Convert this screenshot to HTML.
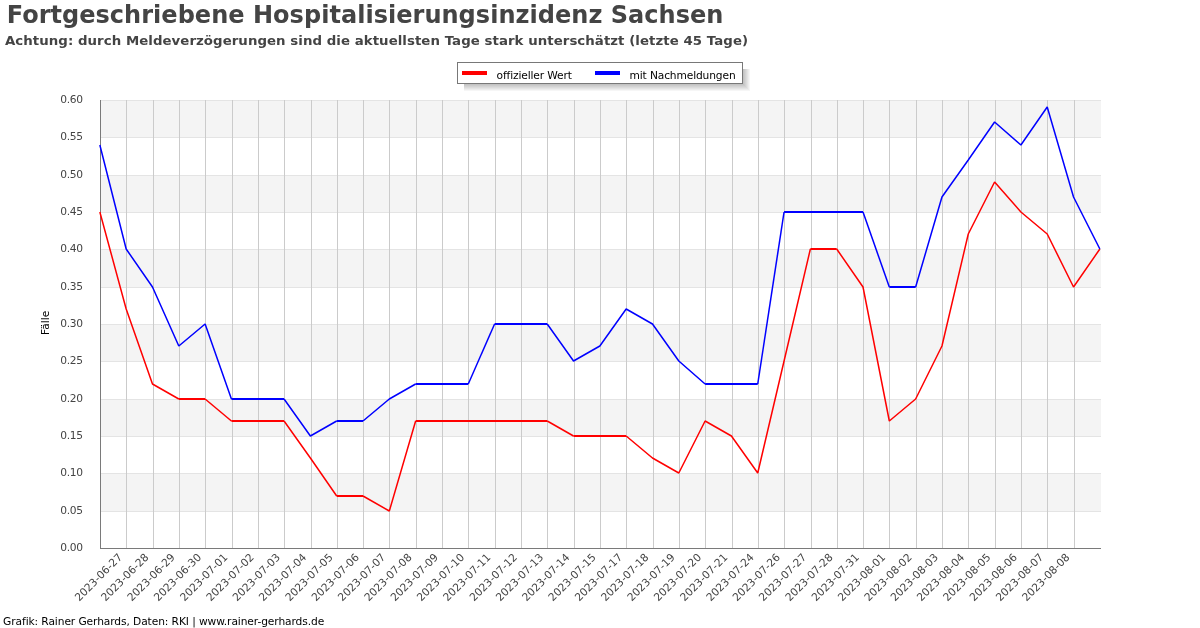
<!DOCTYPE html>
<html lang="de"><head><meta charset="utf-8"><title>Fortgeschriebene Hospitalisierungsinzidenz Sachsen</title>
<style>html,body{margin:0;padding:0;background:#fff}body{width:1200px;height:628px;overflow:hidden}svg{display:block}text{font-family:"DejaVu Sans","Liberation Sans",sans-serif}.b{font-weight:bold;fill:#444}.t{fill:#444}.k{fill:#000}</style></head><body>
<svg width="1200" height="628" viewBox="0 0 1200 628">
<rect width="1200" height="628" fill="#fff"/>
<g shape-rendering="crispEdges">
<rect x="100" y="100" width="1001" height="37" fill="#f4f4f4"/>
<rect x="100" y="175" width="1001" height="37" fill="#f4f4f4"/>
<rect x="100" y="249" width="1001" height="38" fill="#f4f4f4"/>
<rect x="100" y="324" width="1001" height="37" fill="#f4f4f4"/>
<rect x="100" y="399" width="1001" height="37" fill="#f4f4f4"/>
<rect x="100" y="473" width="1001" height="38" fill="#f4f4f4"/>
<rect x="100" y="100" width="1001" height="1" fill="#e4e4e4"/>
<rect x="100" y="137" width="1001" height="1" fill="#e4e4e4"/>
<rect x="100" y="175" width="1001" height="1" fill="#e4e4e4"/>
<rect x="100" y="212" width="1001" height="1" fill="#e4e4e4"/>
<rect x="100" y="249" width="1001" height="1" fill="#e4e4e4"/>
<rect x="100" y="287" width="1001" height="1" fill="#e4e4e4"/>
<rect x="100" y="324" width="1001" height="1" fill="#e4e4e4"/>
<rect x="100" y="361" width="1001" height="1" fill="#e4e4e4"/>
<rect x="100" y="399" width="1001" height="1" fill="#e4e4e4"/>
<rect x="100" y="436" width="1001" height="1" fill="#e4e4e4"/>
<rect x="100" y="473" width="1001" height="1" fill="#e4e4e4"/>
<rect x="100" y="511" width="1001" height="1" fill="#e4e4e4"/>
<rect x="126" y="100" width="1" height="448" fill="#cbcbcb"/>
<rect x="153" y="100" width="1" height="448" fill="#cbcbcb"/>
<rect x="179" y="100" width="1" height="448" fill="#cbcbcb"/>
<rect x="205" y="100" width="1" height="448" fill="#cbcbcb"/>
<rect x="232" y="100" width="1" height="448" fill="#cbcbcb"/>
<rect x="258" y="100" width="1" height="448" fill="#cbcbcb"/>
<rect x="284" y="100" width="1" height="448" fill="#cbcbcb"/>
<rect x="311" y="100" width="1" height="448" fill="#cbcbcb"/>
<rect x="337" y="100" width="1" height="448" fill="#cbcbcb"/>
<rect x="363" y="100" width="1" height="448" fill="#cbcbcb"/>
<rect x="389" y="100" width="1" height="448" fill="#cbcbcb"/>
<rect x="416" y="100" width="1" height="448" fill="#cbcbcb"/>
<rect x="442" y="100" width="1" height="448" fill="#cbcbcb"/>
<rect x="468" y="100" width="1" height="448" fill="#cbcbcb"/>
<rect x="495" y="100" width="1" height="448" fill="#cbcbcb"/>
<rect x="521" y="100" width="1" height="448" fill="#cbcbcb"/>
<rect x="547" y="100" width="1" height="448" fill="#cbcbcb"/>
<rect x="574" y="100" width="1" height="448" fill="#cbcbcb"/>
<rect x="600" y="100" width="1" height="448" fill="#cbcbcb"/>
<rect x="626" y="100" width="1" height="448" fill="#cbcbcb"/>
<rect x="653" y="100" width="1" height="448" fill="#cbcbcb"/>
<rect x="679" y="100" width="1" height="448" fill="#cbcbcb"/>
<rect x="705" y="100" width="1" height="448" fill="#cbcbcb"/>
<rect x="732" y="100" width="1" height="448" fill="#cbcbcb"/>
<rect x="758" y="100" width="1" height="448" fill="#cbcbcb"/>
<rect x="784" y="100" width="1" height="448" fill="#cbcbcb"/>
<rect x="811" y="100" width="1" height="448" fill="#cbcbcb"/>
<rect x="837" y="100" width="1" height="448" fill="#cbcbcb"/>
<rect x="863" y="100" width="1" height="448" fill="#cbcbcb"/>
<rect x="889" y="100" width="1" height="448" fill="#cbcbcb"/>
<rect x="916" y="100" width="1" height="448" fill="#cbcbcb"/>
<rect x="942" y="100" width="1" height="448" fill="#cbcbcb"/>
<rect x="968" y="100" width="1" height="448" fill="#cbcbcb"/>
<rect x="995" y="100" width="1" height="448" fill="#cbcbcb"/>
<rect x="1021" y="100" width="1" height="448" fill="#cbcbcb"/>
<rect x="1047" y="100" width="1" height="448" fill="#cbcbcb"/>
<rect x="1074" y="100" width="1" height="448" fill="#cbcbcb"/>
<rect x="100" y="100" width="1" height="449" fill="#7a7a7a"/>
<rect x="100" y="548" width="1001" height="1" fill="#7a7a7a"/>
</g>
<g fill="none" stroke="#f00" stroke-linejoin="bevel" stroke-linecap="butt"><polyline points="99.85,212 126.17,309 152.48,384 178.80,399" stroke-width="1.5"/><polyline points="178.80,399 205.11,399" stroke-width="2.0" stroke-linecap="butt"/><polyline points="205.11,399 231.43,421" stroke-width="1.5"/><polyline points="231.43,421 257.74,421 284.06,421" stroke-width="2.0" stroke-linecap="butt"/><polyline points="284.06,421 310.38,458 336.69,496" stroke-width="1.5"/><polyline points="336.69,496 363.01,496" stroke-width="2.0" stroke-linecap="butt"/><polyline points="363.01,496 389.32,511 415.64,421" stroke-width="1.5"/><polyline points="415.64,421 441.96,421 468.27,421 494.59,421 520.90,421 547.22,421" stroke-width="2.0" stroke-linecap="butt"/><polyline points="547.22,421 573.53,436" stroke-width="1.5"/><polyline points="573.53,436 599.85,436 626.17,436" stroke-width="2.0" stroke-linecap="butt"/><polyline points="626.17,436 652.48,458 678.80,473 705.11,421 731.43,436 757.74,473 784.06,361 810.38,249" stroke-width="1.5"/><polyline points="810.38,249 836.69,249" stroke-width="2.0" stroke-linecap="butt"/><polyline points="836.69,249 863.01,287 889.32,421 915.64,399 941.96,346 968.27,234 994.59,182 1020.90,212 1047.22,234 1073.53,287 1099.85,249" stroke-width="1.5"/></g>
<g fill="none" stroke="#00f" stroke-linejoin="bevel" stroke-linecap="butt"><polyline points="99.85,145 126.17,249 152.48,287 178.80,346 205.11,324 231.43,399" stroke-width="1.5"/><polyline points="231.43,399 257.74,399 284.06,399" stroke-width="2.0" stroke-linecap="butt"/><polyline points="284.06,399 310.38,436 336.69,421" stroke-width="1.5"/><polyline points="336.69,421 363.01,421" stroke-width="2.0" stroke-linecap="butt"/><polyline points="363.01,421 389.32,399 415.64,384" stroke-width="1.5"/><polyline points="415.64,384 441.96,384 468.27,384" stroke-width="2.0" stroke-linecap="butt"/><polyline points="468.27,384 494.59,324" stroke-width="1.5"/><polyline points="494.59,324 520.90,324 547.22,324" stroke-width="2.0" stroke-linecap="butt"/><polyline points="547.22,324 573.53,361 599.85,346 626.17,309 652.48,324 678.80,361 705.11,384" stroke-width="1.5"/><polyline points="705.11,384 731.43,384 757.74,384" stroke-width="2.0" stroke-linecap="butt"/><polyline points="757.74,384 784.06,212" stroke-width="1.5"/><polyline points="784.06,212 810.38,212 836.69,212 863.01,212" stroke-width="2.0" stroke-linecap="butt"/><polyline points="863.01,212 889.32,287" stroke-width="1.5"/><polyline points="889.32,287 915.64,287" stroke-width="2.0" stroke-linecap="butt"/><polyline points="915.64,287 941.96,197 968.27,160 994.59,122 1020.90,145 1047.22,107 1073.53,197 1099.85,249" stroke-width="1.5"/></g>
<text class="t" x="82.7" y="102.7" font-size="10.67" letter-spacing="-0.35" text-anchor="end">0.60</text>
<text class="t" x="82.7" y="139.7" font-size="10.67" letter-spacing="-0.35" text-anchor="end">0.55</text>
<text class="t" x="82.7" y="177.7" font-size="10.67" letter-spacing="-0.35" text-anchor="end">0.50</text>
<text class="t" x="82.7" y="214.7" font-size="10.67" letter-spacing="-0.35" text-anchor="end">0.45</text>
<text class="t" x="82.7" y="251.7" font-size="10.67" letter-spacing="-0.35" text-anchor="end">0.40</text>
<text class="t" x="82.7" y="289.7" font-size="10.67" letter-spacing="-0.35" text-anchor="end">0.35</text>
<text class="t" x="82.7" y="326.7" font-size="10.67" letter-spacing="-0.35" text-anchor="end">0.30</text>
<text class="t" x="82.7" y="363.7" font-size="10.67" letter-spacing="-0.35" text-anchor="end">0.25</text>
<text class="t" x="82.7" y="401.7" font-size="10.67" letter-spacing="-0.35" text-anchor="end">0.20</text>
<text class="t" x="82.7" y="438.7" font-size="10.67" letter-spacing="-0.35" text-anchor="end">0.15</text>
<text class="t" x="82.7" y="475.7" font-size="10.67" letter-spacing="-0.35" text-anchor="end">0.10</text>
<text class="t" x="82.7" y="513.7" font-size="10.67" letter-spacing="-0.35" text-anchor="end">0.05</text>
<text class="t" x="82.7" y="550.7" font-size="10.67" letter-spacing="-0.35" text-anchor="end">0.00</text>
<text class="t" font-size="10.67" letter-spacing="0" text-anchor="end" transform="translate(117.3,552.3) rotate(-45)" dy="0.75em">2023-06-27</text>
<text class="t" font-size="10.67" letter-spacing="0" text-anchor="end" transform="translate(143.6,552.3) rotate(-45)" dy="0.75em">2023-06-28</text>
<text class="t" font-size="10.67" letter-spacing="0" text-anchor="end" transform="translate(169.9,552.3) rotate(-45)" dy="0.75em">2023-06-29</text>
<text class="t" font-size="10.67" letter-spacing="0" text-anchor="end" transform="translate(196.3,552.3) rotate(-45)" dy="0.75em">2023-06-30</text>
<text class="t" font-size="10.67" letter-spacing="0" text-anchor="end" transform="translate(222.6,552.3) rotate(-45)" dy="0.75em">2023-07-01</text>
<text class="t" font-size="10.67" letter-spacing="0" text-anchor="end" transform="translate(248.9,552.3) rotate(-45)" dy="0.75em">2023-07-02</text>
<text class="t" font-size="10.67" letter-spacing="0" text-anchor="end" transform="translate(275.2,552.3) rotate(-45)" dy="0.75em">2023-07-03</text>
<text class="t" font-size="10.67" letter-spacing="0" text-anchor="end" transform="translate(301.5,552.3) rotate(-45)" dy="0.75em">2023-07-04</text>
<text class="t" font-size="10.67" letter-spacing="0" text-anchor="end" transform="translate(327.8,552.3) rotate(-45)" dy="0.75em">2023-07-05</text>
<text class="t" font-size="10.67" letter-spacing="0" text-anchor="end" transform="translate(354.2,552.3) rotate(-45)" dy="0.75em">2023-07-06</text>
<text class="t" font-size="10.67" letter-spacing="0" text-anchor="end" transform="translate(380.5,552.3) rotate(-45)" dy="0.75em">2023-07-07</text>
<text class="t" font-size="10.67" letter-spacing="0" text-anchor="end" transform="translate(406.8,552.3) rotate(-45)" dy="0.75em">2023-07-08</text>
<text class="t" font-size="10.67" letter-spacing="0" text-anchor="end" transform="translate(433.1,552.3) rotate(-45)" dy="0.75em">2023-07-09</text>
<text class="t" font-size="10.67" letter-spacing="0" text-anchor="end" transform="translate(459.4,552.3) rotate(-45)" dy="0.75em">2023-07-10</text>
<text class="t" font-size="10.67" letter-spacing="0" text-anchor="end" transform="translate(485.7,552.3) rotate(-45)" dy="0.75em">2023-07-11</text>
<text class="t" font-size="10.67" letter-spacing="0" text-anchor="end" transform="translate(512.1,552.3) rotate(-45)" dy="0.75em">2023-07-12</text>
<text class="t" font-size="10.67" letter-spacing="0" text-anchor="end" transform="translate(538.4,552.3) rotate(-45)" dy="0.75em">2023-07-13</text>
<text class="t" font-size="10.67" letter-spacing="0" text-anchor="end" transform="translate(564.7,552.3) rotate(-45)" dy="0.75em">2023-07-14</text>
<text class="t" font-size="10.67" letter-spacing="0" text-anchor="end" transform="translate(591.0,552.3) rotate(-45)" dy="0.75em">2023-07-15</text>
<text class="t" font-size="10.67" letter-spacing="0" text-anchor="end" transform="translate(617.3,552.3) rotate(-45)" dy="0.75em">2023-07-17</text>
<text class="t" font-size="10.67" letter-spacing="0" text-anchor="end" transform="translate(643.6,552.3) rotate(-45)" dy="0.75em">2023-07-18</text>
<text class="t" font-size="10.67" letter-spacing="0" text-anchor="end" transform="translate(669.9,552.3) rotate(-45)" dy="0.75em">2023-07-19</text>
<text class="t" font-size="10.67" letter-spacing="0" text-anchor="end" transform="translate(696.3,552.3) rotate(-45)" dy="0.75em">2023-07-20</text>
<text class="t" font-size="10.67" letter-spacing="0" text-anchor="end" transform="translate(722.6,552.3) rotate(-45)" dy="0.75em">2023-07-21</text>
<text class="t" font-size="10.67" letter-spacing="0" text-anchor="end" transform="translate(748.9,552.3) rotate(-45)" dy="0.75em">2023-07-24</text>
<text class="t" font-size="10.67" letter-spacing="0" text-anchor="end" transform="translate(775.2,552.3) rotate(-45)" dy="0.75em">2023-07-26</text>
<text class="t" font-size="10.67" letter-spacing="0" text-anchor="end" transform="translate(801.5,552.3) rotate(-45)" dy="0.75em">2023-07-27</text>
<text class="t" font-size="10.67" letter-spacing="0" text-anchor="end" transform="translate(827.8,552.3) rotate(-45)" dy="0.75em">2023-07-28</text>
<text class="t" font-size="10.67" letter-spacing="0" text-anchor="end" transform="translate(854.2,552.3) rotate(-45)" dy="0.75em">2023-07-31</text>
<text class="t" font-size="10.67" letter-spacing="0" text-anchor="end" transform="translate(880.5,552.3) rotate(-45)" dy="0.75em">2023-08-01</text>
<text class="t" font-size="10.67" letter-spacing="0" text-anchor="end" transform="translate(906.8,552.3) rotate(-45)" dy="0.75em">2023-08-02</text>
<text class="t" font-size="10.67" letter-spacing="0" text-anchor="end" transform="translate(933.1,552.3) rotate(-45)" dy="0.75em">2023-08-03</text>
<text class="t" font-size="10.67" letter-spacing="0" text-anchor="end" transform="translate(959.4,552.3) rotate(-45)" dy="0.75em">2023-08-04</text>
<text class="t" font-size="10.67" letter-spacing="0" text-anchor="end" transform="translate(985.7,552.3) rotate(-45)" dy="0.75em">2023-08-05</text>
<text class="t" font-size="10.67" letter-spacing="0" text-anchor="end" transform="translate(1012.1,552.3) rotate(-45)" dy="0.75em">2023-08-06</text>
<text class="t" font-size="10.67" letter-spacing="0" text-anchor="end" transform="translate(1038.4,552.3) rotate(-45)" dy="0.75em">2023-08-07</text>
<text class="t" font-size="10.67" letter-spacing="0" text-anchor="end" transform="translate(1064.7,552.3) rotate(-45)" dy="0.75em">2023-08-08</text>
<text class="k" font-size="10.67" text-anchor="middle" transform="translate(49,322.8) rotate(-90)">Fälle</text>
<text class="b" x="6.7" y="22.5" font-size="24" letter-spacing="0.03">Fortgeschriebene Hospitalisierungsinzidenz Sachsen</text>
<text class="b" transform="translate(5,44.7) scale(1,0.93)" font-size="13.33" letter-spacing="0.055">Achtung: durch Meldeverzögerungen sind die aktuellsten Tage stark unterschätzt (letzte 45 Tage)</text>
<g shape-rendering="crispEdges" fill="#000" fill-opacity="0.037">
<rect x="464" y="69" width="280" height="16"/>
<rect x="464" y="69" width="281" height="17"/>
<rect x="464" y="69" width="282" height="18"/>
<rect x="464" y="69" width="283" height="19"/>
<rect x="464" y="69" width="284" height="20"/>
<rect x="464" y="69" width="285" height="21"/>
<rect x="464" y="69" width="286" height="22"/>
</g>
<rect x="457.5" y="62.5" width="285" height="21" fill="#fff" stroke="#787878" stroke-width="1"/>
<rect x="462" y="71" width="25" height="4" fill="#f00"/>
<rect x="595" y="71" width="25" height="4" fill="#00f"/>
<text class="k" x="496.5" y="79" font-size="10.67" letter-spacing="-0.13">offizieller Wert</text>
<text class="k" x="629.5" y="79" font-size="10.67" letter-spacing="-0.13">mit Nachmeldungen</text>
<text class="k" x="3.1" y="624.5" font-size="10.67" letter-spacing="-0.095">Grafik: Rainer Gerhards, Daten: RKI | www.rainer-gerhards.de</text>
</svg></body></html>
